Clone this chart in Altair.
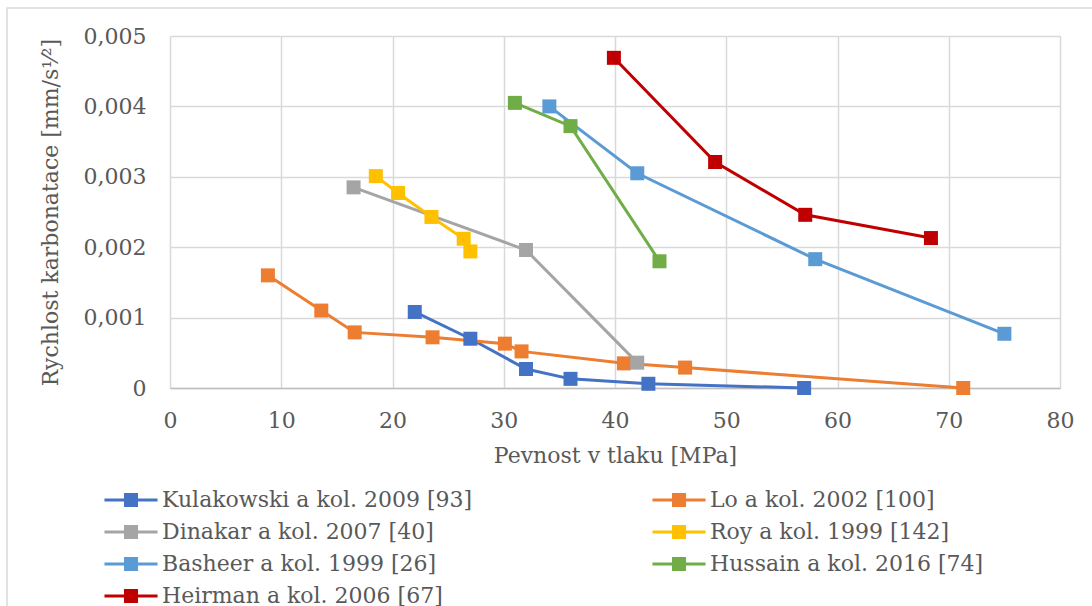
import altair as alt
import pandas as pd

# Compressive strength [MPa] vs. carbonation rate [mm/s^1/2] per study
series_names = [
    "Kulakowski a kol. 2009 [93]",
    "Lo a kol. 2002 [100]",
    "Dinakar a kol. 2007 [40]",
    "Roy a kol. 1999 [142]",
    "Basheer a kol. 1999 [26]",
    "Hussain a kol. 2016 [74]",
    "Heirman a kol. 2006 [67]",
]
series_colors = ["#4472C4", "#ED7D31", "#A5A5A5", "#FFC000", "#5B9BD5", "#70AD47", "#C00000"]

kulakowski_x = [22, 27, 32, 36, 43, 57]
kulakowski_y = [0.00108, 0.00070, 0.00027, 0.00013, 0.00006, 0.0]

lo_x = [8.8, 13.6, 16.6, 23.6, 30.1, 31.6, 40.8, 46.3, 71.3]
lo_y = [0.00160, 0.00110, 0.00079, 0.00072, 0.00063, 0.00052, 0.00035, 0.00029, 0.0]

dinakar_x = [16.5, 32.0, 42.0]
dinakar_y = [0.00285, 0.00196, 0.00036]

roy_x = [18.5, 20.5, 23.5, 26.4, 27.0]
roy_y = [0.00301, 0.00277, 0.00243, 0.00212, 0.00194]

basheer_x = [34.1, 42.0, 58.0, 75.0]
basheer_y = [0.00400, 0.00305, 0.00183, 0.00077]

hussain_x = [31.0, 36.0, 44.0]
hussain_y = [0.00405, 0.00372, 0.00180]

heirman_x = [39.9, 49.0, 57.1, 68.4]
heirman_y = [0.00469, 0.00321, 0.00246, 0.00213]

x_ticks = [0, 10, 20, 30, 40, 50, 60, 70, 80]
y_ticks = [0, 0.001, 0.002, 0.003, 0.004, 0.005]

all_x = [kulakowski_x, lo_x, dinakar_x, roy_x, basheer_x, hussain_x, heirman_x]
all_y = [kulakowski_y, lo_y, dinakar_y, roy_y, basheer_y, hussain_y, heirman_y]

rows = []
for name, xs, ys in zip(series_names, all_x, all_y):
    for xv, yv in zip(xs, ys):
        rows.append({"studie": name, "pevnost": xv, "rychlost": yv})
df = pd.DataFrame(rows)

FONT = "DejaVu Serif"
TEXT = "#595959"
GRID = "#D9D9D9"
FS = 22

# legend glyph: horizontal line with a square marker in the middle
# (drawn wider than the nominal symbol size so rows stay compact)
legend_glyph = (
    "M-4,-0.23L4,-0.23L4,0.23L-4,0.23Z "
    "M-1.06,-1.06L1.06,-1.06L1.06,1.06L-1.06,1.06Z"
)

x_enc = alt.X(
    "pevnost:Q",
    scale=alt.Scale(domain=[0, 80], nice=False),
    axis=alt.Axis(
        values=x_ticks,
        title="Pevnost v tlaku [MPa]",
        grid=True,
        ticks=False,
        labelFlush=False,
        domainColor="#BFBFBF",
        domainWidth=1.5,
        labelPadding=22,
        titlePadding=14,
    ),
)
y_enc = alt.Y(
    "rychlost:Q",
    scale=alt.Scale(domain=[0, 0.005], nice=False),
    axis=alt.Axis(
        values=y_ticks,
        title="Rychlost karbonatace [mm/s¹⁄²]",
        grid=True,
        ticks=False,
        domain=False,
        labelFlush=False,
        labelExpr="datum.value == 0 ? '0' : replace(format(datum.value, '.3f'), '.', ',')",
        labelPadding=24,
        titlePadding=21,
    ),
)
color_scale = alt.Scale(domain=series_names, range=series_colors)

lines = alt.Chart(df).mark_line(strokeWidth=3).encode(
    x=x_enc,
    y=y_enc,
    color=alt.Color("studie:N", scale=color_scale, legend=None),
    detail="studie:N",
)

points = alt.Chart(df).mark_square(size=196, filled=True, opacity=1).encode(
    x=x_enc,
    y=y_enc,
    color=alt.Color(
        "studie:N",
        scale=color_scale,
        legend=alt.Legend(
            title=None,
            orient="none",
            direction="horizontal",
            legendX=-50,
            legendY=453,
            columns=2,
            symbolType=legend_glyph,
            symbolSize=176,
            symbolStrokeWidth=0,
            symbolOpacity=1,
            labelFont=FONT,
            labelFontSize=FS,
            labelColor=TEXT,
            labelOffset=20,
            labelLimit=500,
            columnPadding=179,
            rowPadding=10,
        ),
    ),
)

frame = alt.Chart(alt.Data(values=[{}])).mark_rect(
    fill=None, stroke=GRID, strokeWidth=1.5
).encode(
    x=alt.value(-163), y=alt.value(-28), x2=alt.value(940), y2=alt.value(600)
)

chart = (
    alt.layer(frame, lines, points)
    .resolve_legend(color="independent")
    .properties(
        width=890,
        height=352,
        autosize=alt.AutoSizeParams(type="none"),
        padding={"left": 170, "top": 36, "right": 32, "bottom": 218},
        background="white",
    )
    .configure_view(stroke=None)
    .configure_axis(
        labelFont=FONT,
        labelFontSize=FS,
        labelColor=TEXT,
        titleFont=FONT,
        titleFontSize=FS,
        titleFontWeight="normal",
        titleColor=TEXT,
        gridColor=GRID,
        gridWidth=1.5,
    )
)

chart.save("out.html", embed_options={"renderer": "svg", "actions": False})
